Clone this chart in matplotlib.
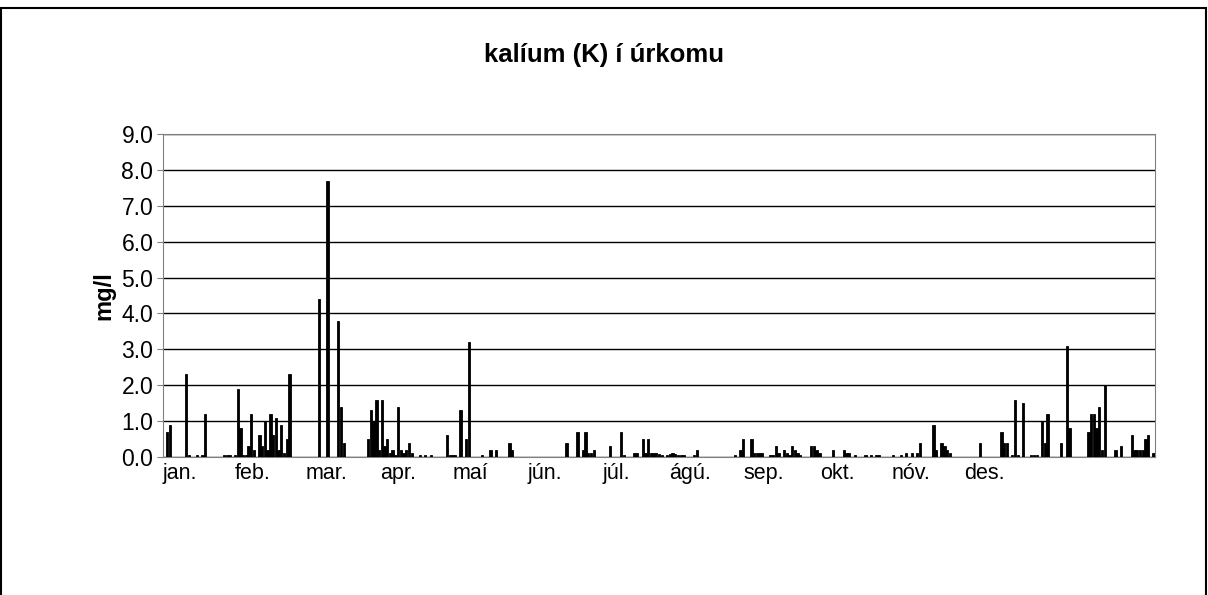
import numpy as np
import matplotlib.pyplot as plt
from matplotlib.patches import Rectangle

plt.rcParams['font.family'] = ['Liberation Sans', 'DejaVu Sans']

title = "kalíum (K) í úrkomu"
ylabel = "mg/l"
months = ["jan.", "feb.", "mar.", "apr.", "maí", "jún.", "júl.", "ágú.", "sep.", "okt.", "nóv.", "des."]
month_pos = [5.8, 32.6, 59.5, 86.0, 112.5, 140.0, 166.5, 193.4, 220.6, 247.8, 274.7, 301.6]

days = [1, 2, 8, 9, 12, 14, 15, 22, 23, 24, 26, 27, 28, 29, 30, 31, 32, 33, 35, 36,
        37, 38, 39, 40, 41, 42, 43, 44, 45, 46, 57, 60, 64, 65, 66,
        75, 76, 77, 78, 79, 80, 81, 82, 83, 84, 85, 86, 87, 88, 89, 90, 91, 94, 96, 98,
        104, 105, 106, 107, 109, 111, 112, 117, 120, 122, 127, 128,
        148, 152, 154, 155, 156, 157, 158, 164, 168, 169, 173, 174, 176, 177, 178,
        179, 180, 181, 182, 183, 185, 186, 187, 188, 189, 190, 191, 195, 196,
        210, 212, 213, 216, 217, 218, 219, 220, 223, 224, 225, 226, 228, 229, 230, 231,
        232, 233, 234, 238, 239, 240, 241, 246, 250, 251, 252, 254, 258, 260, 262, 263,
        268, 271, 273, 275, 277, 278, 283, 284, 286, 287, 288, 289,
        300, 308, 309, 310, 312, 313, 314, 316, 319, 320, 321, 323, 324, 325, 330,
        332, 333, 340, 341, 342, 343, 344, 345, 346, 350, 352, 356, 357, 358, 359,
        360, 361, 362, 364]
values = [0.7, 0.9, 2.3, 0.05, 0.05, 0.05, 1.2, 0.05, 0.05, 0.05, 0.05, 1.9, 0.8, 0.05, 0.05, 0.3, 1.2, 0.2, 0.6, 0.3,
          1.0, 0.2, 1.2, 0.6, 1.1, 0.2, 0.9, 0.1, 0.5, 2.3, 4.4, 7.7, 3.8, 1.4, 0.4,
          0.5, 1.3, 1.0, 1.6, 0.2, 1.6, 0.3, 0.5, 0.1, 0.2, 0.05, 1.4, 0.2, 0.1, 0.2, 0.4, 0.1, 0.05, 0.05, 0.05,
          0.6, 0.05, 0.05, 0.05, 1.3, 0.5, 3.2, 0.05, 0.2, 0.2, 0.4, 0.2,
          0.4, 0.7, 0.2, 0.7, 0.1, 0.1, 0.2, 0.3, 0.7, 0.05, 0.1, 0.1, 0.5, 0.1, 0.5,
          0.1, 0.1, 0.1, 0.07, 0.05, 0.05, 0.07, 0.1, 0.07, 0.05, 0.05, 0.05, 0.05, 0.2,
          0.05, 0.2, 0.5, 0.5, 0.1, 0.1, 0.1, 0.1, 0.05, 0.05, 0.3, 0.1, 0.2, 0.1, 0.05, 0.3,
          0.2, 0.1, 0.05, 0.3, 0.3, 0.2, 0.1, 0.2, 0.2, 0.1, 0.1, 0.05, 0.05, 0.05, 0.05, 0.05,
          0.05, 0.05, 0.1, 0.1, 0.1, 0.4, 0.9, 0.2, 0.4, 0.3, 0.2, 0.1,
          0.4, 0.7, 0.4, 0.4, 0.05, 1.6, 0.05, 1.5, 0.05, 0.05, 0.05, 1.0, 0.4, 1.2, 0.4,
          3.1, 0.8, 0.7, 1.2, 1.2, 0.8, 1.4, 0.2, 2.0, 0.2, 0.3, 0.6, 0.2, 0.2, 0.2,
          0.2, 0.5, 0.6, 0.1]
yticks = np.arange(0, 9.5, 1.0)

fig = plt.figure(figsize=(12.08, 5.95), dpi=100)
ax = fig.add_axes([163 / 1208, 1 - 457 / 595, (1155 - 163) / 1208, (457 - 134) / 595])

ax.bar(days, values, width=0.85, color='black', edgecolor='black', linewidth=0.6, zorder=3)

ax.set_xlim(-0.5, 364.5)
ax.set_ylim(0, 9)
ax.set_yticks(yticks)
ax.set_yticklabels([f"{v:.1f}" for v in yticks], fontsize=16.5)
ax.set_xticks(month_pos)
ax.set_xticklabels(months, fontsize=15.5)
ax.tick_params(axis='x', length=0, pad=4)
ax.tick_params(axis='y', length=4, direction='out', pad=3, color='#808080')
ax.grid(axis='y', color='black', linewidth=1, zorder=0)

for side in ['top', 'right', 'left', 'bottom']:
    ax.spines[side].set_color('#808080')

ax.set_ylabel(ylabel, fontsize=17, fontweight='bold', labelpad=4)
fig.text(0.5, 1 - 55 / 595, title, ha='center', va='center', fontsize=18.5, fontweight='bold')

# outer chart border
fig.patches.append(Rectangle((1 / 1208, -0.01), 1205 / 1208, 1 - 8 / 595 + 0.01,
                             transform=fig.transFigure, fill=False, edgecolor='black', linewidth=1.5))

fig.savefig("out.png", dpi=100)
